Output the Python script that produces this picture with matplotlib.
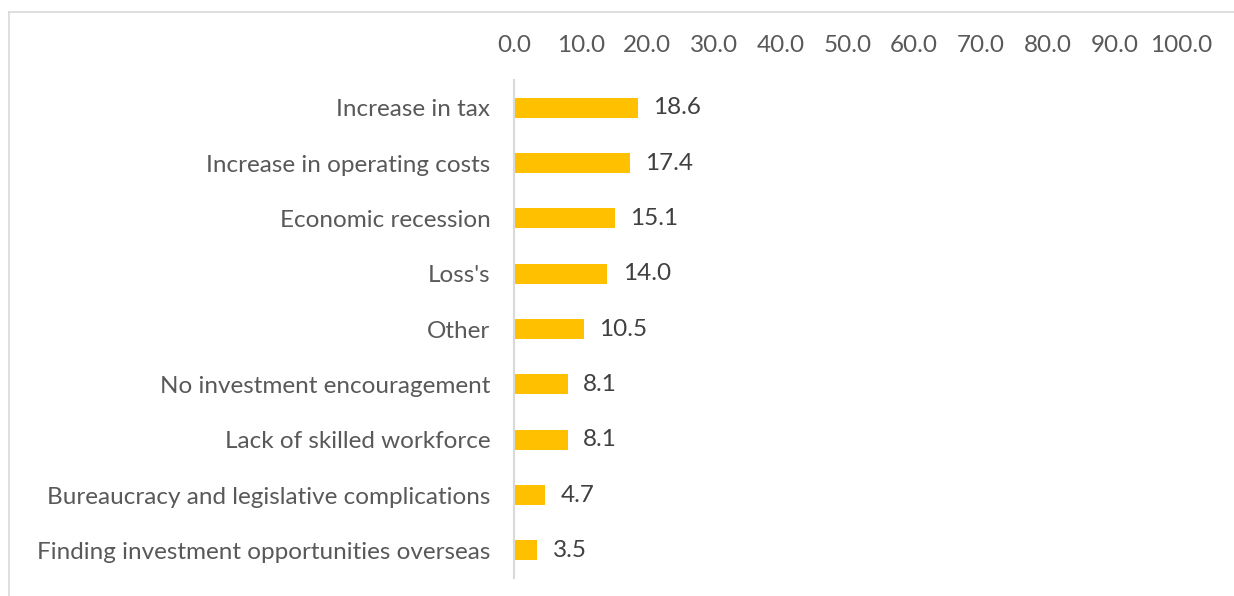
import matplotlib
matplotlib.use("Agg")
import matplotlib.pyplot as plt
from matplotlib.lines import Line2D

categories = [
    "Increase in tax",
    "Increase in operating costs",
    "Economic recession",
    "Loss's",
    "Other",
    "No investment encouragement",
    "Lack of skilled workforce",
    "Bureaucracy and legislative complications",
    "Finding investment opportunities overseas",
]
values = [18.6, 17.4, 15.1, 14.0, 10.5, 8.1, 8.1, 4.7, 3.5]
xticks = [0, 10, 20, 30, 40, 50, 60, 70, 80, 90, 100]

BAR = "#FFC000"
AXIS_GREY = "#D9D9D9"
TICK_TXT = "#595959"
LABEL_TXT = "#404040"
FS = 17.5

plt.rcParams["font.family"] = ["Lato", "DejaVu Sans"]

W, H = 1234, 596
fig = plt.figure(figsize=(W / 100, H / 100), dpi=100)
# plot area in pixels: x 514..1181, y 80..578 (from top)
ax = fig.add_axes([514 / W, 18 / H, (1181 - 514) / W, (578 - 80) / H])

y = list(range(len(categories)))
ax.barh(y, values, height=0.36, color=BAR)
for yi, v in zip(y, values):
    ax.annotate(f"{v:.1f}", (v, yi), xytext=(11, 0), textcoords="offset points",
                va="center", ha="left", fontsize=FS, color=LABEL_TXT)

ax.set_xlim(0, 100)
ax.set_ylim(len(categories) - 0.5, -0.5)
ax.set_xticks(xticks)
ax.set_xticklabels([f"{t:.1f}" for t in xticks])
ax.set_yticks(y)
ax.set_yticklabels(categories)
ax.xaxis.tick_top()
ax.tick_params(axis="x", length=0, pad=17, labelsize=FS, labelcolor=TICK_TXT)
ax.tick_params(axis="y", length=0, pad=17, labelsize=FS, labelcolor=TICK_TXT)
for side in ("top", "right", "bottom"):
    ax.spines[side].set_visible(False)
ax.spines["left"].set_color(AXIS_GREY)
ax.spines["left"].set_linewidth(1.5)

# chart-area frame (top and left edges)
x0, y0 = 9 / W, 1 - 12 / H
fig.add_artist(Line2D([x0, 1], [y0, y0], color=AXIS_GREY, lw=1.2, transform=fig.transFigure))
fig.add_artist(Line2D([x0, x0], [0, y0], color=AXIS_GREY, lw=1.2, transform=fig.transFigure))

fig.savefig("out.png", dpi=100)
